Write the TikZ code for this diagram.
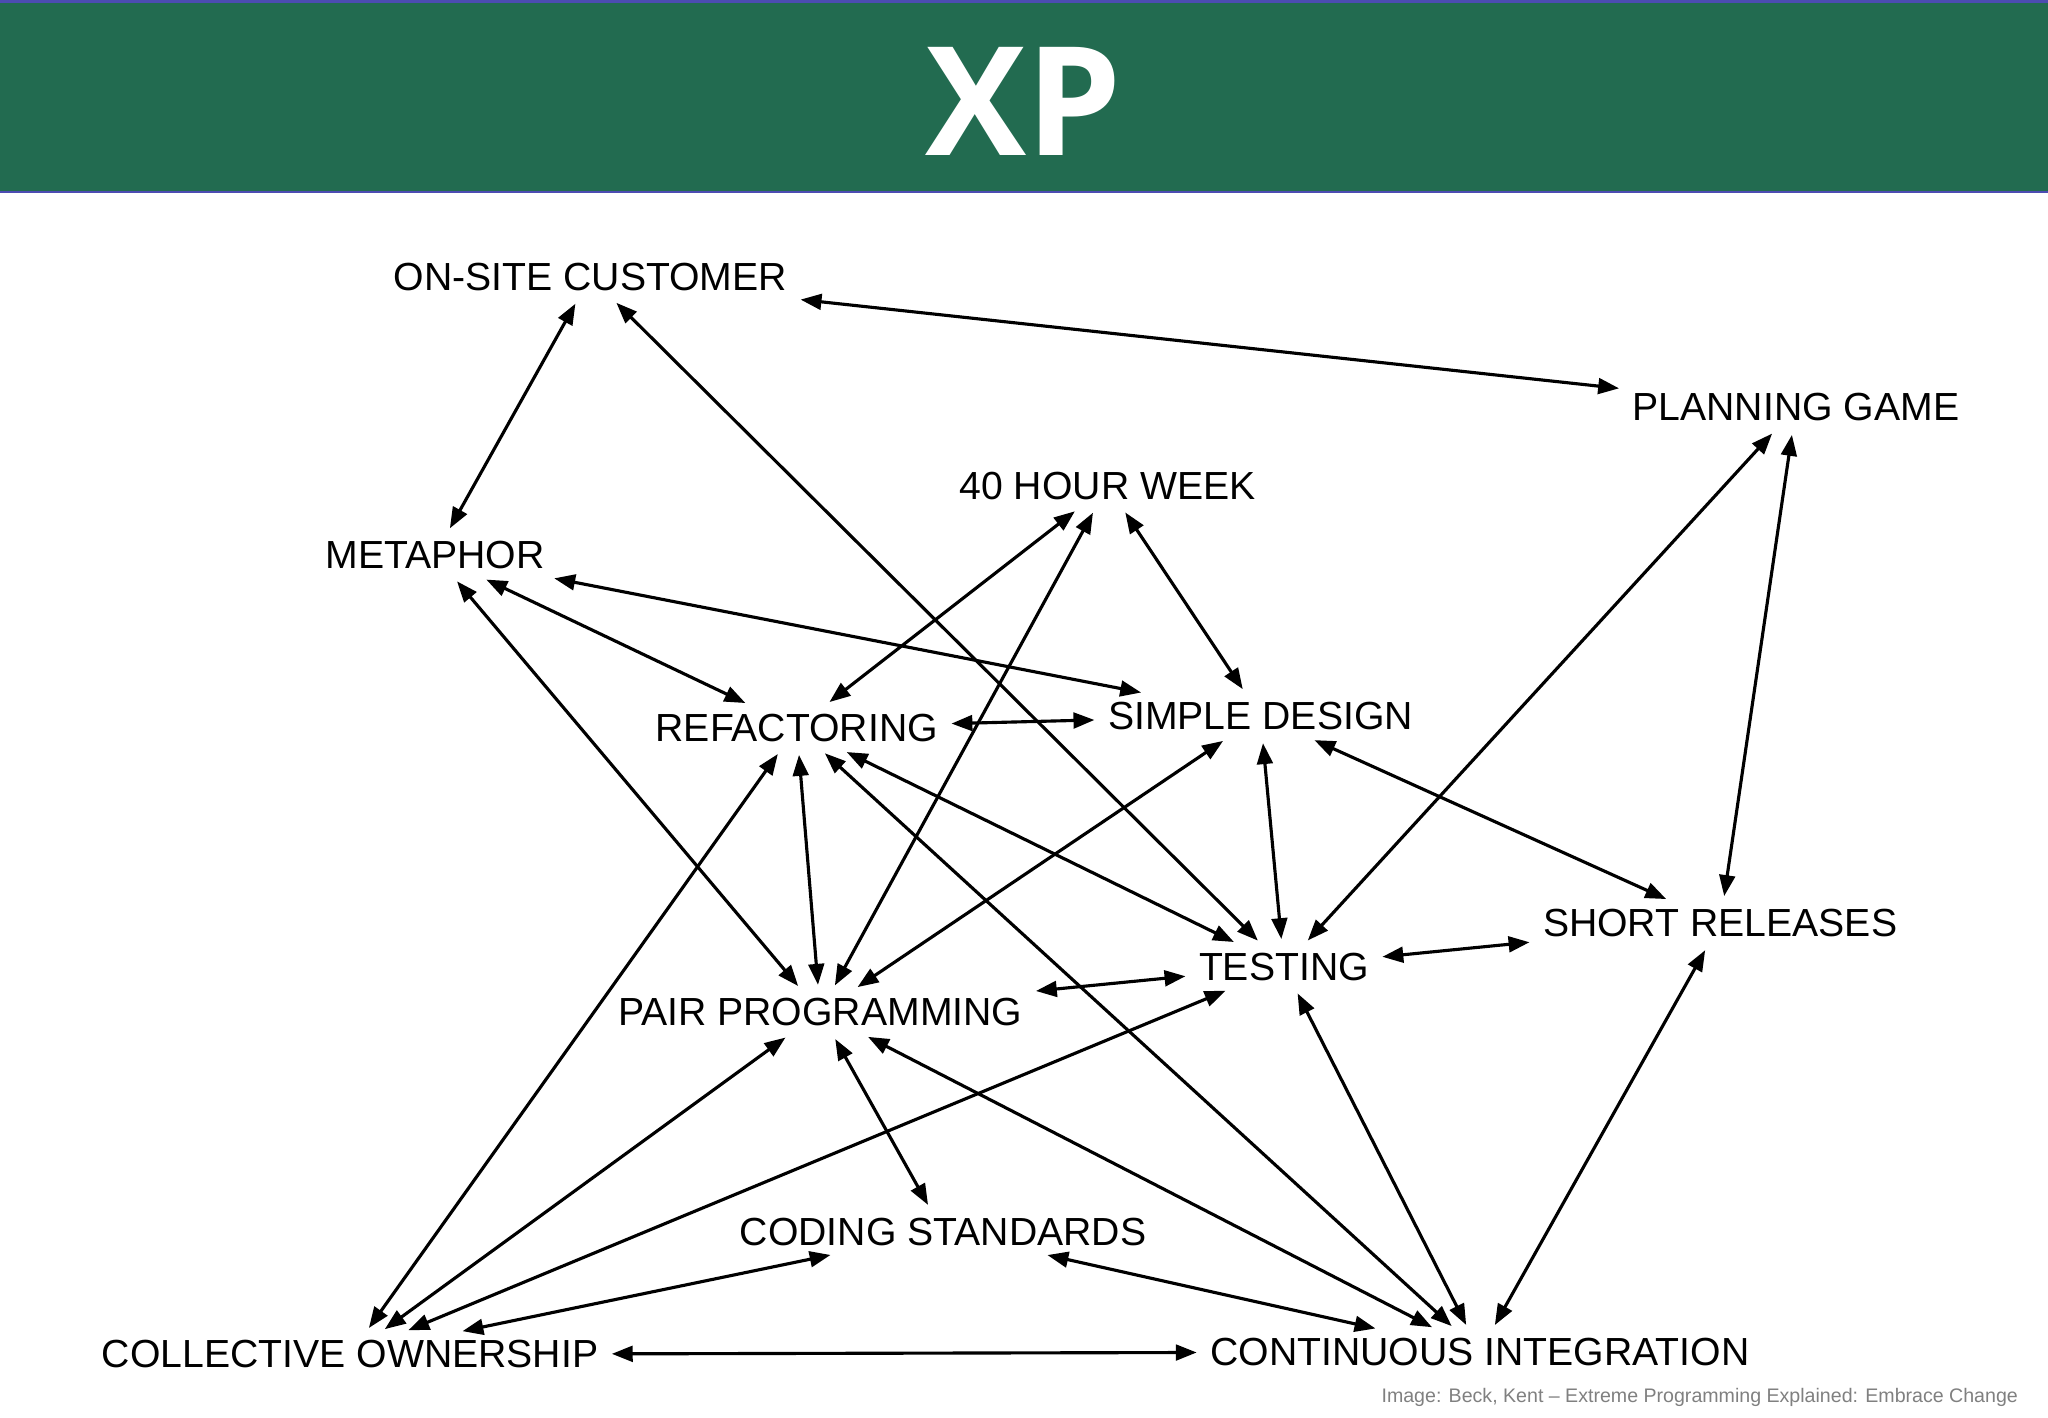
\documentclass[tikz,border=0pt]{standalone}
\usepackage{fontspec}
\setmainfont{Liberation Sans}
\newfontfamily\titlefont{Open Sans}
\usetikzlibrary{arrows.meta}
\definecolor{band}{HTML}{226B50}
\begin{document}
\begin{tikzpicture}[x=0.5pt,y=-0.5pt,
  lbl/.style={font=\fontsize{15}{17}\selectfont, inner sep=3pt},
  link/.style={{Triangle[length=8pt,width=6pt]}-{Triangle[length=8pt,width=6pt]}, line width=1.2pt, shorten <=2pt, shorten >=2pt}]
\useasboundingbox (0,0) rectangle (1568,1085);
\fill[white] (0,0) rectangle (1568,1085);
\fill[band] (0,0) rectangle (1568,148);
\draw[blue!40!gray, line width=1pt] (0,1) -- (1568,1) (0,147) -- (1568,147);
\node[text=white, font=\titlefont\bfseries\fontsize{58}{60}\selectfont] (title) at (784,78) {XP};
\node[lbl] (osc) at (452,212) {ON-SITE CUSTOMER};
\node[lbl] (pg) at (1375,312) {PLANNING GAME};
\node[lbl] (hw) at (848,372) {40 HOUR WEEK};
\node[lbl] (met) at (333,425) {METAPHOR};
\node[lbl] (ref) at (610,557) {REFACTORING};
\node[lbl] (sd) at (965,548) {SIMPLE DESIGN};
\node[lbl] (tst) at (983,740) {TESTING};
\node[lbl] (sr) at (1317,707) {SHORT RELEASES};
\node[lbl] (pp) at (628,775) {PAIR PROGRAMMING};
\node[lbl] (cs) at (722,943) {CODING STANDARDS};
\node[lbl] (co) at (268,1037) {COLLECTIVE OWNERSHIP};
\node[lbl] (ci) at (1133,1035) {CONTINUOUS INTEGRATION};
\node[text=gray, font=\fontsize{7.5}{9}\selectfont, anchor=east] (cap) at (1552,1070) {Image: Beck, Kent -- Extreme Programming Explained: Embrace Change};
\draw[link] (osc) -- (pg);
\draw[link] (osc) -- (met);
\draw[link] (osc) -- (tst);
\draw[link] (pg) -- (tst);
\draw[link] (pg) -- (sr);
\draw[link] (hw) -- (ref);
\draw[link] (hw) -- (pp);
\draw[link] (hw) -- (sd);
\draw[link] (met) -- (sd);
\draw[link] (met) -- (ref);
\draw[link] (met) -- (pp);
\draw[link] (ref) -- (sd);
\draw[link] (ref) -- (tst);
\draw[link] (ref) -- (pp);
\draw[link] (ref) -- (co);
\draw[link] (ref) -- (ci);
\draw[link] (sd) -- (tst);
\draw[link] (sd) -- (sr);
\draw[link] (sd) -- (pp);
\draw[link] (tst) -- (sr);
\draw[link] (tst) -- (pp);
\draw[link] (tst) -- (co);
\draw[link] (tst) -- (ci);
\draw[link] (sr) -- (ci);
\draw[link] (pp) -- (co);
\draw[link] (pp) -- (cs);
\draw[link] (pp) -- (ci);
\draw[link] (cs) -- (co);
\draw[link] (cs) -- (ci);
\draw[link] (co) -- (ci);
\end{tikzpicture}
\end{document}
